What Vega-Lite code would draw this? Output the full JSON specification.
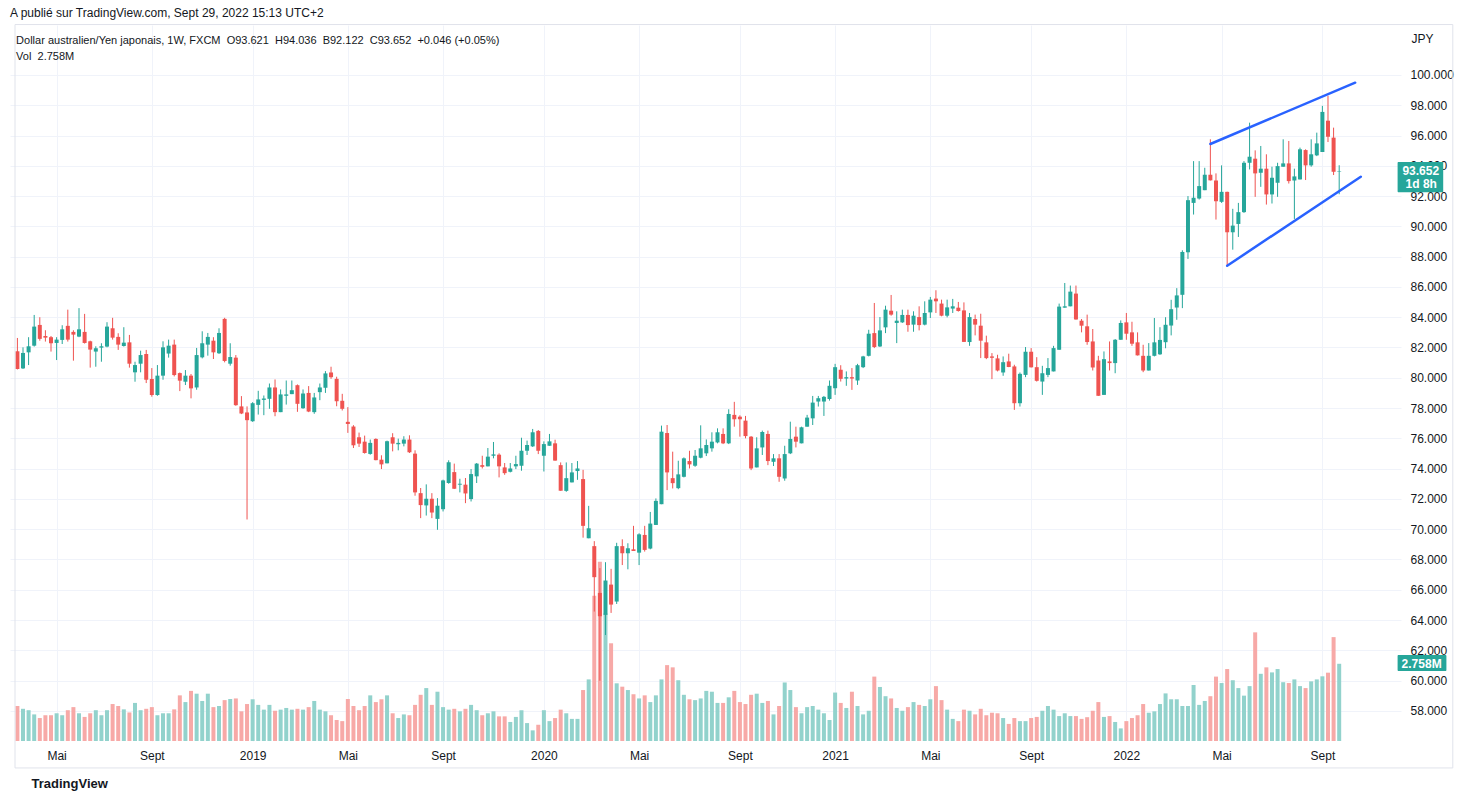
{
  "$schema": "https://vega.github.io/schema/vega-lite/v6.json",
  "width": 1391,
  "height": 716,
  "autosize": "none",
  "padding": {"left": 10, "top": 25, "right": 72, "bottom": 59},
  "background": "white",
  "title": {
    "text": "A publié sur TradingView.com, Sept 29, 2022 15:13 UTC+2",
    "subtitle": ["\u200b\u00a0\u00a0Dollar australien/Yen japonais, 1W, FXCM\u00a0\u00a0O93.621\u00a0\u00a0H94.036\u00a0\u00a0B92.122\u00a0\u00a0C93.652\u00a0\u00a0+0.046 (+0.05%)", "\u200b\u00a0\u00a0Vol\u00a0\u00a02.758M"],
    "anchor": "start",
    "frame": "group",
    "offset": -39,
    "font": "Liberation Sans",
    "fontSize": 12,
    "fontWeight": "normal",
    "color": "#131722",
    "subtitleFont": "Liberation Sans",
    "subtitleFontSize": 11,
    "subtitleColor": "#131722",
    "subtitlePadding": 15,
    "subtitleLineHeight": 16
  },
  "datasets": {
    "candles": [
      {"d":"2018-03-19","o":81.75,"h":82.63,"l":80.55,"c":80.58,"v":1.25},
      {"d":"2018-03-26","o":80.62,"h":82.01,"l":80.58,"c":81.64,"v":1.15},
      {"d":"2018-04-02","o":81.68,"h":82.68,"l":80.84,"c":82.08,"v":1.10},
      {"d":"2018-04-09","o":82.12,"h":84.15,"l":82.06,"c":83.38,"v":0.95},
      {"d":"2018-04-16","o":83.49,"h":84.00,"l":82.45,"c":82.57,"v":0.82},
      {"d":"2018-04-23","o":82.76,"h":83.14,"l":82.39,"c":82.65,"v":0.92},
      {"d":"2018-04-30","o":82.68,"h":82.76,"l":81.73,"c":82.28,"v":0.92},
      {"d":"2018-05-07","o":82.30,"h":82.68,"l":81.17,"c":82.52,"v":0.99},
      {"d":"2018-05-14","o":82.50,"h":83.47,"l":82.23,"c":83.20,"v":0.92},
      {"d":"2018-05-21","o":83.43,"h":84.50,"l":82.39,"c":82.52,"v":1.10},
      {"d":"2018-05-28","o":83.03,"h":83.14,"l":81.13,"c":82.85,"v":1.21},
      {"d":"2018-06-04","o":82.72,"h":84.60,"l":82.68,"c":83.20,"v":0.99},
      {"d":"2018-06-11","o":83.03,"h":84.22,"l":82.26,"c":82.30,"v":0.86},
      {"d":"2018-06-18","o":82.41,"h":82.45,"l":80.67,"c":81.86,"v":0.99},
      {"d":"2018-06-25","o":81.73,"h":82.08,"l":80.73,"c":81.95,"v":1.10},
      {"d":"2018-07-02","o":81.99,"h":82.28,"l":81.06,"c":82.08,"v":0.92},
      {"d":"2018-07-09","o":82.06,"h":83.67,"l":82.01,"c":83.38,"v":1.10},
      {"d":"2018-07-16","o":83.27,"h":83.96,"l":82.52,"c":82.65,"v":1.32},
      {"d":"2018-07-23","o":82.70,"h":82.94,"l":81.84,"c":82.19,"v":1.25},
      {"d":"2018-07-30","o":82.10,"h":83.34,"l":82.06,"c":82.32,"v":1.13},
      {"d":"2018-08-06","o":82.34,"h":82.83,"l":80.67,"c":80.93,"v":1.02},
      {"d":"2018-08-13","o":80.36,"h":81.06,"l":79.74,"c":80.84,"v":1.36},
      {"d":"2018-08-20","o":80.93,"h":81.79,"l":80.36,"c":81.50,"v":1.10},
      {"d":"2018-08-27","o":81.57,"h":81.84,"l":79.65,"c":79.87,"v":1.15},
      {"d":"2018-09-03","o":79.92,"h":80.64,"l":78.75,"c":78.86,"v":1.21},
      {"d":"2018-09-10","o":78.86,"h":80.84,"l":78.81,"c":80.14,"v":0.92},
      {"d":"2018-09-17","o":80.14,"h":82.41,"l":79.87,"c":82.01,"v":0.99},
      {"d":"2018-09-24","o":81.60,"h":82.52,"l":81.33,"c":82.12,"v":0.99},
      {"d":"2018-10-01","o":82.19,"h":82.52,"l":80.09,"c":80.18,"v":1.13},
      {"d":"2018-10-08","o":80.31,"h":80.35,"l":79.12,"c":79.81,"v":1.63},
      {"d":"2018-10-15","o":79.74,"h":80.51,"l":79.52,"c":80.14,"v":1.39},
      {"d":"2018-10-22","o":80.14,"h":80.25,"l":78.64,"c":79.30,"v":1.79},
      {"d":"2018-10-29","o":79.36,"h":81.97,"l":79.21,"c":81.50,"v":1.69},
      {"d":"2018-11-05","o":81.35,"h":83.07,"l":81.28,"c":82.28,"v":1.43},
      {"d":"2018-11-12","o":82.19,"h":82.96,"l":81.46,"c":82.70,"v":1.69},
      {"d":"2018-11-19","o":82.45,"h":82.68,"l":81.24,"c":81.68,"v":1.21},
      {"d":"2018-11-26","o":81.62,"h":83.27,"l":81.57,"c":82.96,"v":1.25},
      {"d":"2018-12-03","o":83.89,"h":83.96,"l":81.02,"c":81.11,"v":1.46},
      {"d":"2018-12-10","o":80.93,"h":82.28,"l":80.80,"c":81.37,"v":1.50},
      {"d":"2018-12-17","o":81.33,"h":81.50,"l":78.15,"c":78.19,"v":1.52},
      {"d":"2018-12-24","o":78.11,"h":78.79,"l":77.60,"c":77.64,"v":1.06},
      {"d":"2018-12-31","o":77.71,"h":78.11,"l":70.64,"c":77.20,"v":1.32},
      {"d":"2019-01-07","o":77.13,"h":78.39,"l":77.09,"c":78.32,"v":1.49},
      {"d":"2019-01-14","o":78.21,"h":79.14,"l":77.57,"c":78.57,"v":1.29},
      {"d":"2019-01-21","o":78.54,"h":78.83,"l":77.53,"c":78.63,"v":1.12},
      {"d":"2019-01-28","o":78.61,"h":79.62,"l":77.95,"c":79.36,"v":1.29},
      {"d":"2019-02-04","o":79.36,"h":79.89,"l":77.46,"c":77.73,"v":1.08},
      {"d":"2019-02-11","o":77.73,"h":79.23,"l":77.73,"c":78.90,"v":1.12},
      {"d":"2019-02-18","o":78.81,"h":79.82,"l":78.23,"c":78.90,"v":1.18},
      {"d":"2019-02-25","o":78.92,"h":79.82,"l":78.92,"c":79.18,"v":1.12},
      {"d":"2019-03-04","o":79.51,"h":79.56,"l":77.75,"c":78.28,"v":1.15},
      {"d":"2019-03-11","o":77.99,"h":79.23,"l":77.95,"c":78.96,"v":1.12},
      {"d":"2019-03-18","o":79.00,"h":79.45,"l":77.73,"c":77.77,"v":1.21},
      {"d":"2019-03-25","o":77.73,"h":79.00,"l":77.62,"c":78.70,"v":1.43},
      {"d":"2019-04-01","o":79.05,"h":79.62,"l":78.52,"c":79.36,"v":1.12},
      {"d":"2019-04-08","o":79.34,"h":80.44,"l":79.00,"c":80.29,"v":1.06},
      {"d":"2019-04-15","o":80.35,"h":80.73,"l":79.93,"c":80.04,"v":0.92},
      {"d":"2019-04-22","o":79.93,"h":80.07,"l":78.12,"c":78.45,"v":0.75},
      {"d":"2019-04-29","o":78.48,"h":78.94,"l":77.84,"c":77.95,"v":0.71},
      {"d":"2019-05-06","o":77.09,"h":78.06,"l":76.36,"c":76.95,"v":1.50},
      {"d":"2019-05-13","o":76.78,"h":76.87,"l":75.36,"c":75.54,"v":1.25},
      {"d":"2019-05-20","o":76.07,"h":76.38,"l":75.43,"c":75.65,"v":1.10},
      {"d":"2019-05-27","o":75.78,"h":76.18,"l":74.99,"c":75.03,"v":1.25},
      {"d":"2019-06-03","o":74.97,"h":75.92,"l":74.92,"c":75.70,"v":1.63},
      {"d":"2019-06-10","o":75.96,"h":76.00,"l":74.55,"c":74.56,"v":1.39},
      {"d":"2019-06-17","o":74.59,"h":74.88,"l":73.97,"c":74.28,"v":1.49},
      {"d":"2019-06-24","o":74.35,"h":75.85,"l":74.35,"c":75.81,"v":1.63},
      {"d":"2019-07-01","o":76.07,"h":76.34,"l":75.14,"c":75.65,"v":0.99},
      {"d":"2019-07-08","o":75.61,"h":75.98,"l":75.21,"c":75.70,"v":0.82},
      {"d":"2019-07-15","o":75.65,"h":76.14,"l":75.47,"c":75.92,"v":0.95},
      {"d":"2019-07-22","o":75.92,"h":76.20,"l":75.03,"c":75.08,"v":0.92},
      {"d":"2019-07-29","o":74.99,"h":75.21,"l":72.21,"c":72.43,"v":1.29},
      {"d":"2019-08-05","o":72.38,"h":72.72,"l":70.73,"c":71.59,"v":1.65},
      {"d":"2019-08-12","o":71.57,"h":72.96,"l":70.90,"c":72.01,"v":1.89},
      {"d":"2019-08-19","o":72.01,"h":72.38,"l":70.73,"c":71.10,"v":1.29},
      {"d":"2019-08-26","o":70.68,"h":72.05,"l":69.96,"c":71.55,"v":1.76},
      {"d":"2019-09-02","o":71.32,"h":73.27,"l":71.17,"c":73.22,"v":1.21},
      {"d":"2019-09-09","o":73.05,"h":74.55,"l":73.00,"c":74.42,"v":1.12},
      {"d":"2019-09-16","o":73.77,"h":74.33,"l":72.65,"c":72.67,"v":1.15},
      {"d":"2019-09-23","o":72.94,"h":73.33,"l":72.43,"c":73.00,"v":1.06},
      {"d":"2019-09-30","o":72.94,"h":73.38,"l":71.72,"c":72.36,"v":1.15},
      {"d":"2019-10-07","o":71.99,"h":73.97,"l":71.83,"c":73.64,"v":1.29},
      {"d":"2019-10-14","o":73.49,"h":74.37,"l":73.05,"c":74.33,"v":1.10},
      {"d":"2019-10-21","o":74.23,"h":74.85,"l":74.01,"c":74.12,"v":0.92},
      {"d":"2019-10-28","o":74.15,"h":75.36,"l":74.15,"c":74.79,"v":0.99},
      {"d":"2019-11-04","o":74.85,"h":75.76,"l":74.68,"c":74.94,"v":1.06},
      {"d":"2019-11-11","o":74.92,"h":75.01,"l":73.42,"c":74.15,"v":0.88},
      {"d":"2019-11-18","o":74.08,"h":74.37,"l":73.59,"c":73.70,"v":0.88},
      {"d":"2019-11-25","o":73.79,"h":74.37,"l":73.75,"c":74.01,"v":0.68},
      {"d":"2019-12-02","o":74.15,"h":74.85,"l":73.97,"c":74.30,"v":0.86},
      {"d":"2019-12-09","o":74.19,"h":76.04,"l":73.86,"c":75.18,"v":1.10},
      {"d":"2019-12-16","o":75.18,"h":75.85,"l":74.90,"c":75.56,"v":0.64},
      {"d":"2019-12-23","o":75.47,"h":76.62,"l":75.43,"c":76.40,"v":0.38},
      {"d":"2019-12-30","o":76.49,"h":76.55,"l":74.96,"c":75.18,"v":0.58},
      {"d":"2020-01-06","o":74.85,"h":75.80,"l":73.81,"c":75.62,"v":1.10},
      {"d":"2020-01-13","o":75.51,"h":76.29,"l":75.51,"c":75.80,"v":0.71},
      {"d":"2020-01-20","o":75.67,"h":75.91,"l":74.52,"c":74.53,"v":0.82},
      {"d":"2020-01-27","o":74.23,"h":74.41,"l":72.53,"c":72.54,"v":1.12},
      {"d":"2020-02-03","o":72.53,"h":74.41,"l":72.47,"c":73.37,"v":0.99},
      {"d":"2020-02-10","o":73.09,"h":74.37,"l":73.09,"c":73.75,"v":0.79},
      {"d":"2020-02-17","o":73.84,"h":74.50,"l":73.26,"c":74.01,"v":0.79},
      {"d":"2020-02-24","o":73.31,"h":73.92,"l":69.44,"c":70.22,"v":1.82},
      {"d":"2020-03-02","o":69.40,"h":71.54,"l":69.40,"c":70.06,"v":2.20},
      {"d":"2020-03-09","o":68.88,"h":69.21,"l":64.56,"c":66.83,"v":5.19},
      {"d":"2020-03-16","o":65.79,"h":67.43,"l":59.99,"c":64.25,"v":6.40},
      {"d":"2020-03-23","o":64.34,"h":67.82,"l":63.01,"c":66.61,"v":4.56},
      {"d":"2020-03-30","o":66.34,"h":67.38,"l":64.47,"c":65.02,"v":3.49},
      {"d":"2020-04-06","o":65.22,"h":69.10,"l":65.06,"c":68.88,"v":2.06},
      {"d":"2020-04-13","o":68.88,"h":69.33,"l":67.63,"c":68.41,"v":1.94},
      {"d":"2020-04-20","o":68.41,"h":69.07,"l":67.35,"c":68.74,"v":1.82},
      {"d":"2020-04-27","o":68.67,"h":70.22,"l":68.56,"c":68.56,"v":1.67},
      {"d":"2020-05-04","o":68.45,"h":69.73,"l":67.63,"c":69.66,"v":1.52},
      {"d":"2020-05-11","o":69.62,"h":70.22,"l":68.52,"c":68.63,"v":1.63},
      {"d":"2020-05-18","o":68.72,"h":71.14,"l":68.67,"c":70.37,"v":1.39},
      {"d":"2020-05-25","o":70.28,"h":72.03,"l":70.28,"c":71.87,"v":1.63},
      {"d":"2020-06-01","o":71.65,"h":76.84,"l":71.65,"c":76.44,"v":2.20},
      {"d":"2020-06-08","o":76.35,"h":76.88,"l":72.58,"c":73.75,"v":2.71},
      {"d":"2020-06-15","o":73.37,"h":75.12,"l":72.69,"c":73.04,"v":2.63},
      {"d":"2020-06-22","o":72.71,"h":74.52,"l":72.64,"c":73.62,"v":2.17},
      {"d":"2020-06-29","o":73.46,"h":74.74,"l":73.42,"c":74.68,"v":1.65},
      {"d":"2020-07-06","o":74.50,"h":75.18,"l":74.01,"c":74.28,"v":1.49},
      {"d":"2020-07-13","o":74.19,"h":75.23,"l":74.12,"c":74.85,"v":1.46},
      {"d":"2020-07-20","o":74.72,"h":76.86,"l":74.68,"c":75.34,"v":1.52},
      {"d":"2020-07-27","o":75.01,"h":75.93,"l":74.83,"c":75.56,"v":1.79},
      {"d":"2020-08-03","o":75.34,"h":76.40,"l":75.12,"c":75.78,"v":1.76},
      {"d":"2020-08-10","o":75.73,"h":76.66,"l":75.67,"c":76.40,"v":1.36},
      {"d":"2020-08-17","o":76.29,"h":76.66,"l":75.62,"c":75.67,"v":1.36},
      {"d":"2020-08-24","o":75.67,"h":77.92,"l":75.62,"c":77.61,"v":1.56},
      {"d":"2020-08-31","o":77.55,"h":78.41,"l":76.77,"c":77.26,"v":1.79},
      {"d":"2020-09-07","o":77.43,"h":77.52,"l":76.11,"c":77.26,"v":1.39},
      {"d":"2020-09-14","o":77.17,"h":77.48,"l":76.00,"c":76.15,"v":1.32},
      {"d":"2020-09-21","o":76.11,"h":76.15,"l":73.90,"c":74.01,"v":1.65},
      {"d":"2020-09-28","o":74.08,"h":76.07,"l":74.08,"c":75.34,"v":1.69},
      {"d":"2020-10-05","o":75.40,"h":76.51,"l":74.90,"c":76.42,"v":1.36},
      {"d":"2020-10-12","o":76.29,"h":76.51,"l":74.23,"c":74.50,"v":1.43},
      {"d":"2020-10-19","o":74.45,"h":74.96,"l":74.17,"c":74.68,"v":0.95},
      {"d":"2020-10-26","o":74.68,"h":74.96,"l":73.13,"c":73.46,"v":1.25},
      {"d":"2020-11-02","o":73.35,"h":75.51,"l":73.20,"c":74.96,"v":2.09},
      {"d":"2020-11-09","o":75.01,"h":77.10,"l":74.96,"c":75.96,"v":1.82},
      {"d":"2020-11-16","o":76.11,"h":76.77,"l":75.40,"c":75.78,"v":1.21},
      {"d":"2020-11-23","o":75.67,"h":76.77,"l":75.67,"c":76.73,"v":0.99},
      {"d":"2020-11-30","o":76.77,"h":77.55,"l":76.77,"c":77.37,"v":1.21},
      {"d":"2020-12-07","o":77.32,"h":78.80,"l":76.88,"c":78.36,"v":1.25},
      {"d":"2020-12-14","o":78.43,"h":78.80,"l":78.10,"c":78.65,"v":1.12},
      {"d":"2020-12-21","o":78.43,"h":78.80,"l":77.48,"c":78.74,"v":0.99},
      {"d":"2020-12-28","o":78.60,"h":79.82,"l":78.49,"c":79.47,"v":0.75},
      {"d":"2021-01-04","o":79.31,"h":80.92,"l":78.87,"c":80.70,"v":1.73},
      {"d":"2021-01-11","o":80.53,"h":80.83,"l":79.75,"c":79.93,"v":1.36},
      {"d":"2021-01-18","o":79.95,"h":80.42,"l":79.47,"c":80.04,"v":1.18},
      {"d":"2021-01-25","o":80.04,"h":80.64,"l":79.20,"c":79.95,"v":1.76},
      {"d":"2021-02-01","o":79.82,"h":80.92,"l":79.53,"c":80.83,"v":1.25},
      {"d":"2021-02-08","o":80.70,"h":81.45,"l":80.64,"c":81.41,"v":0.95},
      {"d":"2021-02-15","o":81.45,"h":83.17,"l":81.41,"c":82.91,"v":1.08},
      {"d":"2021-02-22","o":82.95,"h":84.94,"l":81.96,"c":82.03,"v":2.30},
      {"d":"2021-03-01","o":82.07,"h":84.01,"l":82.03,"c":83.13,"v":1.93},
      {"d":"2021-03-08","o":83.33,"h":84.76,"l":82.95,"c":84.50,"v":1.60},
      {"d":"2021-03-15","o":84.43,"h":85.47,"l":84.10,"c":84.17,"v":1.52},
      {"d":"2021-03-22","o":83.62,"h":84.39,"l":82.29,"c":83.77,"v":1.18},
      {"d":"2021-03-29","o":83.66,"h":84.50,"l":83.62,"c":84.15,"v":1.08},
      {"d":"2021-04-05","o":84.15,"h":84.50,"l":83.04,"c":83.48,"v":1.21},
      {"d":"2021-04-12","o":83.51,"h":84.39,"l":83.04,"c":84.10,"v":1.39},
      {"d":"2021-04-19","o":84.01,"h":84.72,"l":83.13,"c":83.48,"v":1.29},
      {"d":"2021-04-26","o":83.51,"h":85.05,"l":83.46,"c":84.28,"v":1.25},
      {"d":"2021-05-03","o":84.32,"h":85.34,"l":83.95,"c":85.16,"v":1.49},
      {"d":"2021-05-10","o":85.23,"h":85.78,"l":84.28,"c":85.05,"v":1.96},
      {"d":"2021-05-17","o":84.90,"h":85.16,"l":84.06,"c":84.10,"v":1.46},
      {"d":"2021-05-24","o":84.10,"h":85.16,"l":83.99,"c":84.65,"v":1.12},
      {"d":"2021-05-31","o":84.57,"h":85.21,"l":84.28,"c":84.72,"v":0.79},
      {"d":"2021-06-07","o":84.63,"h":85.01,"l":84.37,"c":84.41,"v":0.71},
      {"d":"2021-06-14","o":84.45,"h":84.98,"l":82.36,"c":82.37,"v":1.12},
      {"d":"2021-06-21","o":82.36,"h":84.28,"l":82.11,"c":84.01,"v":1.08},
      {"d":"2021-06-28","o":83.88,"h":84.17,"l":82.80,"c":83.51,"v":0.95},
      {"d":"2021-07-05","o":83.44,"h":84.23,"l":81.30,"c":82.45,"v":1.15},
      {"d":"2021-07-12","o":82.34,"h":82.78,"l":81.23,"c":81.30,"v":0.92},
      {"d":"2021-07-19","o":81.41,"h":81.63,"l":79.91,"c":81.32,"v":1.01},
      {"d":"2021-07-26","o":81.28,"h":81.52,"l":80.42,"c":80.48,"v":0.99},
      {"d":"2021-08-02","o":80.35,"h":81.41,"l":80.13,"c":81.03,"v":0.82},
      {"d":"2021-08-09","o":81.08,"h":81.59,"l":80.70,"c":80.71,"v":0.61},
      {"d":"2021-08-16","o":80.75,"h":80.86,"l":77.88,"c":78.32,"v":0.82},
      {"d":"2021-08-23","o":78.32,"h":80.35,"l":78.10,"c":80.26,"v":0.71},
      {"d":"2021-08-30","o":80.19,"h":82.03,"l":80.04,"c":81.72,"v":0.71},
      {"d":"2021-09-06","o":81.72,"h":81.96,"l":80.68,"c":80.69,"v":0.82},
      {"d":"2021-09-13","o":80.70,"h":81.36,"l":79.75,"c":79.80,"v":0.86},
      {"d":"2021-09-20","o":79.75,"h":80.79,"l":78.87,"c":80.30,"v":1.08},
      {"d":"2021-09-27","o":80.19,"h":81.30,"l":80.04,"c":80.64,"v":1.25},
      {"d":"2021-10-04","o":80.42,"h":82.11,"l":80.42,"c":81.96,"v":1.12},
      {"d":"2021-10-11","o":81.85,"h":84.90,"l":81.85,"c":84.70,"v":0.89},
      {"d":"2021-10-18","o":84.63,"h":86.26,"l":84.63,"c":84.72,"v":0.99},
      {"d":"2021-10-25","o":84.72,"h":86.09,"l":84.72,"c":85.69,"v":0.89},
      {"d":"2021-11-01","o":85.56,"h":86.09,"l":83.84,"c":83.85,"v":0.89},
      {"d":"2021-11-08","o":83.77,"h":83.88,"l":83.00,"c":83.44,"v":0.79},
      {"d":"2021-11-15","o":83.40,"h":84.17,"l":82.18,"c":82.36,"v":0.85},
      {"d":"2021-11-22","o":82.40,"h":83.22,"l":80.48,"c":80.68,"v":1.08},
      {"d":"2021-11-29","o":81.14,"h":81.45,"l":78.80,"c":78.81,"v":1.39},
      {"d":"2021-12-06","o":78.87,"h":81.74,"l":78.87,"c":81.23,"v":0.86},
      {"d":"2021-12-13","o":81.08,"h":82.40,"l":80.48,"c":80.97,"v":0.89},
      {"d":"2021-12-20","o":80.97,"h":82.56,"l":80.30,"c":82.51,"v":0.68},
      {"d":"2021-12-27","o":82.51,"h":83.79,"l":82.51,"c":83.62,"v":0.45},
      {"d":"2022-01-03","o":83.66,"h":84.28,"l":82.51,"c":82.91,"v":0.71},
      {"d":"2022-01-10","o":83.00,"h":83.70,"l":82.11,"c":82.25,"v":0.82},
      {"d":"2022-01-17","o":82.34,"h":83.00,"l":81.47,"c":81.48,"v":0.92},
      {"d":"2022-01-24","o":81.45,"h":82.18,"l":80.37,"c":80.48,"v":1.32},
      {"d":"2022-01-31","o":80.48,"h":82.29,"l":80.48,"c":81.45,"v":1.01},
      {"d":"2022-02-07","o":81.45,"h":83.95,"l":81.41,"c":82.34,"v":1.06},
      {"d":"2022-02-14","o":81.55,"h":83.34,"l":81.51,"c":82.50,"v":1.32},
      {"d":"2022-02-21","o":82.35,"h":84.00,"l":81.95,"c":83.50,"v":1.70},
      {"d":"2022-02-28","o":83.45,"h":85.15,"l":82.80,"c":84.53,"v":1.49},
      {"d":"2022-03-07","o":84.64,"h":85.92,"l":83.83,"c":85.44,"v":1.49},
      {"d":"2022-03-14","o":85.48,"h":88.42,"l":84.60,"c":88.31,"v":1.25},
      {"d":"2022-03-21","o":88.29,"h":92.00,"l":87.85,"c":91.73,"v":1.25},
      {"d":"2022-03-28","o":91.55,"h":94.31,"l":90.78,"c":91.89,"v":2.00},
      {"d":"2022-04-04","o":91.84,"h":94.31,"l":91.77,"c":92.66,"v":1.29},
      {"d":"2022-04-11","o":92.39,"h":93.87,"l":92.39,"c":93.41,"v":1.43},
      {"d":"2022-04-18","o":93.41,"h":95.75,"l":93.03,"c":93.04,"v":1.60},
      {"d":"2022-04-25","o":93.03,"h":93.50,"l":90.45,"c":91.66,"v":2.30},
      {"d":"2022-05-02","o":91.62,"h":94.03,"l":91.55,"c":92.28,"v":2.07},
      {"d":"2022-05-09","o":92.28,"h":92.29,"l":87.43,"c":89.61,"v":2.57},
      {"d":"2022-05-16","o":89.61,"h":91.16,"l":88.46,"c":90.05,"v":2.17},
      {"d":"2022-05-23","o":90.16,"h":91.55,"l":89.30,"c":90.94,"v":1.89},
      {"d":"2022-05-30","o":90.94,"h":94.31,"l":90.89,"c":94.20,"v":1.62},
      {"d":"2022-06-06","o":94.20,"h":96.85,"l":93.76,"c":94.60,"v":1.96},
      {"d":"2022-06-13","o":94.47,"h":95.02,"l":91.95,"c":93.50,"v":3.88},
      {"d":"2022-06-20","o":93.54,"h":95.31,"l":92.61,"c":93.81,"v":2.40},
      {"d":"2022-06-27","o":93.81,"h":94.76,"l":91.44,"c":92.11,"v":2.63},
      {"d":"2022-07-04","o":92.11,"h":93.94,"l":91.51,"c":93.21,"v":2.45},
      {"d":"2022-07-11","o":92.88,"h":94.20,"l":91.95,"c":93.98,"v":2.57},
      {"d":"2022-07-18","o":93.94,"h":95.75,"l":93.94,"c":94.16,"v":2.10},
      {"d":"2022-07-25","o":94.16,"h":95.64,"l":92.83,"c":92.99,"v":2.07},
      {"d":"2022-08-01","o":93.03,"h":93.81,"l":90.49,"c":93.30,"v":2.20},
      {"d":"2022-08-08","o":93.10,"h":95.20,"l":93.10,"c":95.09,"v":1.96},
      {"d":"2022-08-15","o":95.04,"h":95.09,"l":93.06,"c":94.03,"v":1.89},
      {"d":"2022-08-22","o":94.03,"h":95.75,"l":93.94,"c":94.76,"v":2.13},
      {"d":"2022-08-29","o":94.69,"h":96.19,"l":94.64,"c":95.48,"v":2.20},
      {"d":"2022-09-05","o":94.91,"h":97.96,"l":94.91,"c":97.56,"v":2.31},
      {"d":"2022-09-12","o":96.98,"h":98.62,"l":95.57,"c":95.92,"v":2.44},
      {"d":"2022-09-19","o":95.86,"h":96.52,"l":93.39,"c":93.606,"v":3.71},
      {"d":"2022-09-26","o":93.621,"h":94.036,"l":92.122,"c":93.652,"v":2.758}
    ],
    "trend": [
      {"g":"haut","d":"2022-04-18","p":95.44},
      {"g":"haut","d":"2022-10-16","p":99.49},
      {"g":"bas","d":"2022-05-09","p":87.40},
      {"g":"bas","d":"2022-10-23","p":93.28}
    ],
    "last": [
      {"p":93.652,"vol":2.758,"prix":"93.652","reste":"1d 8h","volTxt":"2.758M"}
    ]
  },
  "layer": [
    {
      "layer": [
        {
          "data": {"name": "candles"},
          "mark": {"type": "bar", "width": 4},
          "encoding": {
            "x": {
              "field": "d", "type": "temporal",
              "scale": {"type": "utc", "domain": [{"year": 2018, "month": 3, "date": 16, "utc": true}, {"year": 2022, "month": 12, "date": 6, "utc": true}]},
              "axis": {
                "values": [
                  {"year": 2018, "month": 5, "date": 7, "utc": true},
                  {"year": 2018, "month": 9, "date": 3, "utc": true},
                  {"year": 2019, "month": 1, "date": 7, "utc": true},
                  {"year": 2019, "month": 5, "date": 6, "utc": true},
                  {"year": 2019, "month": 9, "date": 2, "utc": true},
                  {"year": 2020, "month": 1, "date": 6, "utc": true},
                  {"year": 2020, "month": 5, "date": 4, "utc": true},
                  {"year": 2020, "month": 9, "date": 7, "utc": true},
                  {"year": 2021, "month": 1, "date": 4, "utc": true},
                  {"year": 2021, "month": 5, "date": 3, "utc": true},
                  {"year": 2021, "month": 9, "date": 6, "utc": true},
                  {"year": 2022, "month": 1, "date": 3, "utc": true},
                  {"year": 2022, "month": 5, "date": 2, "utc": true},
                  {"year": 2022, "month": 9, "date": 5, "utc": true}
                ],
                "labelExpr": "utcmonth(datum.value) == 0 ? utcFormat(datum.value, '%Y') : (utcmonth(datum.value) == 4 ? 'Mai' : 'Sept')",
                "grid": true,
                "gridColor": "#f0f3fa",
                "gridWidth": 1,
                "domain": false,
                "ticks": false,
                "labelPadding": 9,
                "labelFont": "Liberation Sans",
                "labelFontSize": 12,
                "labelColor": "#131722",
                "labelFlush": false,
                "labelOverlap": false,
                "title": "TradingView",
                "titleX": 21,
                "titleY": 42,
                "titleAlign": "left",
                "titleBaseline": "middle",
                "titleFont": "Liberation Sans",
                "titleFontSize": 13,
                "titleFontWeight": "bold",
                "titleColor": "#131722"
              }
            },
            "y": {"field": "v", "type": "quantitative", "scale": {"domain": [0, 25.57]}, "axis": null},
            "color": {"condition": {"test": "datum.c >= datum.o", "value": "#92d2cc"}, "value": "#f7a9a7"}
          }
        },
        {
          "data": {"name": "last"},
          "mark": {"type": "rect", "color": "#26a69a", "cornerRadius": 1},
          "encoding": {
            "x": {"datum": {"year": 2022, "month": 12, "date": 8, "utc": true}, "type": "temporal", "scale": {"type": "utc", "domain": [{"year": 2018, "month": 3, "date": 16, "utc": true}, {"year": 2022, "month": 12, "date": 6, "utc": true}]}},
            "x2": {"datum": {"year": 2023, "month": 2, "date": 7, "utc": true}},
            "y": {"datum": 3.07, "type": "quantitative", "scale": {"domain": [0, 25.57]}},
            "y2": {"datum": 2.50}
          }
        },
        {
          "data": {"name": "last"},
          "mark": {"type": "text", "color": "white", "font": "Liberation Sans", "fontSize": 12, "fontWeight": "bold", "align": "left", "baseline": "middle"},
          "encoding": {
            "x": {"datum": {"year": 2022, "month": 12, "date": 13, "utc": true}, "type": "temporal", "scale": {"type": "utc", "domain": [{"year": 2018, "month": 3, "date": 16, "utc": true}, {"year": 2022, "month": 12, "date": 6, "utc": true}]}},
            "y": {"field": "vol", "type": "quantitative", "scale": {"domain": [0, 25.57]}},
            "text": {"field": "volTxt"}
          }
        }
      ]
    },
    {
      "layer": [
        {
          "mark": {"type": "rule", "color": "#26a69a", "strokeDash": [1, 3], "strokeWidth": 1},
          "encoding": {
            "y": {
              "datum": 93.652, "type": "quantitative",
              "scale": {"domain": [56.01, 103.30]},
              "axis": {
                "orient": "right",
                "values": [58, 60, 62, 64, 66, 68, 70, 72, 74, 76, 78, 80, 82, 84, 86, 88, 90, 92, 94, 96, 98, 100],
                "format": ".3f",
                "grid": true,
                "gridColor": "#f0f3fa",
                "gridWidth": 1,
                "domain": false,
                "ticks": false,
                "labelOverlap": false,
                "labelFlush": false,
                "labelPadding": 9,
                "labelFont": "Liberation Sans",
                "labelFontSize": 12,
                "labelColor": "#131722",
                "labelAlign": "left",
                "labelBaseline": "middle",
                "title": "JPY",
                "titleAngle": 0,
                "titleX": 10,
                "titleY": 13,
                "titleAlign": "left",
                "titleBaseline": "middle",
                "titleFont": "Liberation Sans",
                "titleFontSize": 12,
                "titleFontWeight": "normal",
                "titleColor": "#131722"
              }
            }
          }
        },
        {
          "data": {"name": "candles"},
          "mark": {"type": "rule", "strokeWidth": 1},
          "encoding": {
            "x": {"field": "d", "type": "temporal", "scale": {"type": "utc", "domain": [{"year": 2018, "month": 3, "date": 16, "utc": true}, {"year": 2022, "month": 12, "date": 6, "utc": true}]}},
            "y": {"field": "l", "type": "quantitative", "scale": {"domain": [56.01, 103.30]}},
            "y2": {"field": "h"},
            "color": {"condition": {"test": "datum.c >= datum.o", "value": "#26a69a"}, "value": "#ef5350"}
          }
        },
        {
          "data": {"name": "candles"},
          "mark": {"type": "bar", "width": 4},
          "encoding": {
            "x": {"field": "d", "type": "temporal", "scale": {"type": "utc", "domain": [{"year": 2018, "month": 3, "date": 16, "utc": true}, {"year": 2022, "month": 12, "date": 6, "utc": true}]}},
            "y": {"field": "o", "type": "quantitative", "scale": {"domain": [56.01, 103.30]}},
            "y2": {"field": "c"},
            "color": {"condition": {"test": "datum.c >= datum.o", "value": "#26a69a"}, "value": "#ef5350"}
          }
        },
        {
          "data": {"name": "trend"},
          "mark": {"type": "line", "color": "#2962ff", "strokeWidth": 2.5, "strokeCap": "round"},
          "encoding": {
            "x": {"field": "d", "type": "temporal", "scale": {"type": "utc", "domain": [{"year": 2018, "month": 3, "date": 16, "utc": true}, {"year": 2022, "month": 12, "date": 6, "utc": true}]}},
            "y": {"field": "p", "type": "quantitative", "scale": {"domain": [56.01, 103.30]}},
            "detail": {"field": "g"}
          }
        },
        {
          "data": {"name": "last"},
          "mark": {"type": "rect", "color": "#26a69a", "cornerRadius": 1},
          "encoding": {
            "x": {"datum": {"year": 2022, "month": 12, "date": 8, "utc": true}, "type": "temporal", "scale": {"type": "utc", "domain": [{"year": 2018, "month": 3, "date": 16, "utc": true}, {"year": 2022, "month": 12, "date": 6, "utc": true}]}},
            "x2": {"datum": {"year": 2023, "month": 2, "date": 3, "utc": true}},
            "y": {"datum": 94.25, "type": "quantitative", "scale": {"domain": [56.01, 103.30]}},
            "y2": {"datum": 92.25}
          }
        },
        {
          "data": {"name": "last"},
          "mark": {"type": "text", "color": "white", "font": "Liberation Sans", "fontSize": 12, "fontWeight": "bold", "align": "left", "baseline": "middle"},
          "encoding": {
            "x": {"datum": {"year": 2022, "month": 12, "date": 14, "utc": true}, "type": "temporal", "scale": {"type": "utc", "domain": [{"year": 2018, "month": 3, "date": 16, "utc": true}, {"year": 2022, "month": 12, "date": 6, "utc": true}]}},
            "y": {"datum": 93.68, "type": "quantitative", "scale": {"domain": [56.01, 103.30]}},
            "text": {"field": "prix"}
          }
        },
        {
          "data": {"name": "last"},
          "mark": {"type": "text", "color": "white", "font": "Liberation Sans", "fontSize": 12, "fontWeight": "bold", "align": "left", "baseline": "middle"},
          "encoding": {
            "x": {"datum": {"year": 2022, "month": 12, "date": 18, "utc": true}, "type": "temporal", "scale": {"type": "utc", "domain": [{"year": 2018, "month": 3, "date": 16, "utc": true}, {"year": 2022, "month": 12, "date": 6, "utc": true}]}},
            "y": {"datum": 92.82, "type": "quantitative", "scale": {"domain": [56.01, 103.30]}},
            "text": {"field": "reste"}
          }
        },
        {
          "data": {"name": "last"},
          "mark": {"type": "rect", "fillOpacity": 0, "stroke": "#e0e3eb", "strokeWidth": 1},
          "encoding": {
            "x": {"datum": {"year": 2018, "month": 3, "date": 16, "utc": true}, "type": "temporal", "scale": {"type": "utc", "domain": [{"year": 2018, "month": 3, "date": 16, "utc": true}, {"year": 2022, "month": 12, "date": 6, "utc": true}]}},
            "x2": {"datum": {"year": 2023, "month": 2, "date": 15, "utc": true}},
            "y": {"datum": 103.33, "type": "quantitative", "scale": {"domain": [56.01, 103.30]}},
            "y2": {"datum": 54.23}
          }
        }
      ]
    }
  ],
  "resolve": {"scale": {"y": "independent"}, "axis": {"y": "independent"}},
  "config": {
    "view": {"stroke": null},
    "font": "Liberation Sans",
    "axis": {"labelOverlap": false},
    "axisY": {"labelOverlap": false, "tickCount": 30}
  }
}
